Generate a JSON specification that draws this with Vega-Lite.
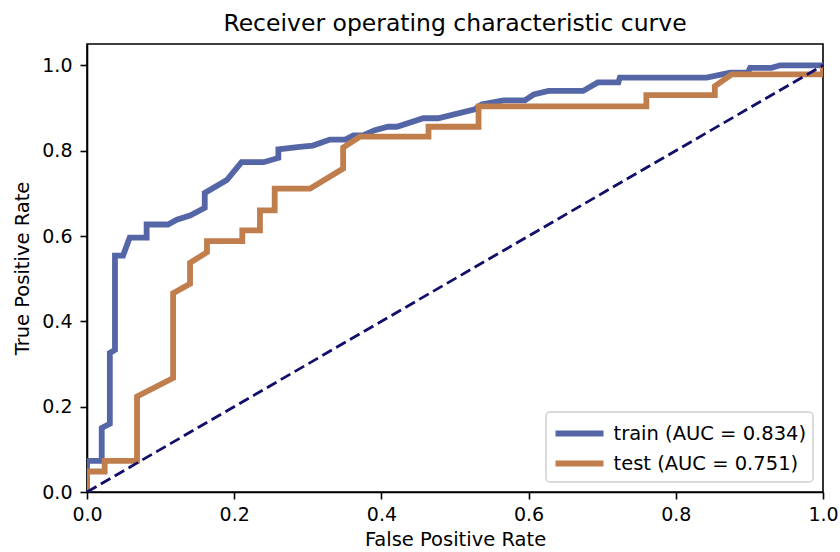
{
  "$schema": "https://vega.github.io/schema/vega-lite/v6.json",
  "autosize": {"type": "none"},
  "width": 736,
  "height": 448,
  "padding": {"left": 87, "top": 44, "right": 17, "bottom": 60},
  "background": "white",
  "config": {
    "font": "DejaVu Sans",
    "view": {"stroke": "black", "strokeWidth": 1.6},
    "legend": {"strokeWidth": 1.5},
    "axis": {
      "grid": false,
      "domainColor": "black",
      "domainWidth": 1.6,
      "tickColor": "black",
      "tickWidth": 1.6,
      "tickSize": 7,
      "labelFont": "DejaVu Sans",
      "labelFontSize": 19,
      "labelColor": "black",
      "labelPadding": 6,
      "titleFont": "DejaVu Sans",
      "titleFontSize": 19.5,
      "titleFontWeight": "normal",
      "titleColor": "black"
    }
  },
  "title": {
    "text": "Receiver operating characteristic curve",
    "font": "DejaVu Sans",
    "fontSize": 23.5,
    "fontWeight": "normal",
    "color": "black",
    "offset": 9
  },
  "datasets": {
    "roc": [
      {"set": "train (AUC = 0.834)", "i": 0, "fpr": 0, "tpr": 0},
      {"set": "train (AUC = 0.834)", "i": 1, "fpr": 0, "tpr": 0.073},
      {"set": "train (AUC = 0.834)", "i": 2, "fpr": 0.020, "tpr": 0.073},
      {"set": "train (AUC = 0.834)", "i": 3, "fpr": 0.020, "tpr": 0.150},
      {"set": "train (AUC = 0.834)", "i": 4, "fpr": 0.031, "tpr": 0.160},
      {"set": "train (AUC = 0.834)", "i": 5, "fpr": 0.031, "tpr": 0.326},
      {"set": "train (AUC = 0.834)", "i": 6, "fpr": 0.038, "tpr": 0.333},
      {"set": "train (AUC = 0.834)", "i": 7, "fpr": 0.038, "tpr": 0.554},
      {"set": "train (AUC = 0.834)", "i": 8, "fpr": 0.049, "tpr": 0.554},
      {"set": "train (AUC = 0.834)", "i": 9, "fpr": 0.058, "tpr": 0.596},
      {"set": "train (AUC = 0.834)", "i": 10, "fpr": 0.081, "tpr": 0.596},
      {"set": "train (AUC = 0.834)", "i": 11, "fpr": 0.081, "tpr": 0.627},
      {"set": "train (AUC = 0.834)", "i": 12, "fpr": 0.110, "tpr": 0.627},
      {"set": "train (AUC = 0.834)", "i": 13, "fpr": 0.122, "tpr": 0.638},
      {"set": "train (AUC = 0.834)", "i": 14, "fpr": 0.140, "tpr": 0.648},
      {"set": "train (AUC = 0.834)", "i": 15, "fpr": 0.160, "tpr": 0.666},
      {"set": "train (AUC = 0.834)", "i": 16, "fpr": 0.160, "tpr": 0.701},
      {"set": "train (AUC = 0.834)", "i": 17, "fpr": 0.190, "tpr": 0.731},
      {"set": "train (AUC = 0.834)", "i": 18, "fpr": 0.210, "tpr": 0.773},
      {"set": "train (AUC = 0.834)", "i": 19, "fpr": 0.240, "tpr": 0.773},
      {"set": "train (AUC = 0.834)", "i": 20, "fpr": 0.260, "tpr": 0.783},
      {"set": "train (AUC = 0.834)", "i": 21, "fpr": 0.260, "tpr": 0.803},
      {"set": "train (AUC = 0.834)", "i": 22, "fpr": 0.289, "tpr": 0.809},
      {"set": "train (AUC = 0.834)", "i": 23, "fpr": 0.307, "tpr": 0.812},
      {"set": "train (AUC = 0.834)", "i": 24, "fpr": 0.330, "tpr": 0.826},
      {"set": "train (AUC = 0.834)", "i": 25, "fpr": 0.351, "tpr": 0.826},
      {"set": "train (AUC = 0.834)", "i": 26, "fpr": 0.362, "tpr": 0.836},
      {"set": "train (AUC = 0.834)", "i": 27, "fpr": 0.375, "tpr": 0.836},
      {"set": "train (AUC = 0.834)", "i": 28, "fpr": 0.391, "tpr": 0.848},
      {"set": "train (AUC = 0.834)", "i": 29, "fpr": 0.409, "tpr": 0.856},
      {"set": "train (AUC = 0.834)", "i": 30, "fpr": 0.421, "tpr": 0.856},
      {"set": "train (AUC = 0.834)", "i": 31, "fpr": 0.457, "tpr": 0.876},
      {"set": "train (AUC = 0.834)", "i": 32, "fpr": 0.477, "tpr": 0.876},
      {"set": "train (AUC = 0.834)", "i": 33, "fpr": 0.527, "tpr": 0.897},
      {"set": "train (AUC = 0.834)", "i": 34, "fpr": 0.536, "tpr": 0.908},
      {"set": "train (AUC = 0.834)", "i": 35, "fpr": 0.566, "tpr": 0.918},
      {"set": "train (AUC = 0.834)", "i": 36, "fpr": 0.595, "tpr": 0.918},
      {"set": "train (AUC = 0.834)", "i": 37, "fpr": 0.607, "tpr": 0.932},
      {"set": "train (AUC = 0.834)", "i": 38, "fpr": 0.627, "tpr": 0.940},
      {"set": "train (AUC = 0.834)", "i": 39, "fpr": 0.674, "tpr": 0.940},
      {"set": "train (AUC = 0.834)", "i": 40, "fpr": 0.694, "tpr": 0.960},
      {"set": "train (AUC = 0.834)", "i": 41, "fpr": 0.722, "tpr": 0.960},
      {"set": "train (AUC = 0.834)", "i": 42, "fpr": 0.724, "tpr": 0.971},
      {"set": "train (AUC = 0.834)", "i": 43, "fpr": 0.842, "tpr": 0.971},
      {"set": "train (AUC = 0.834)", "i": 44, "fpr": 0.874, "tpr": 0.983},
      {"set": "train (AUC = 0.834)", "i": 45, "fpr": 0.898, "tpr": 0.983},
      {"set": "train (AUC = 0.834)", "i": 46, "fpr": 0.901, "tpr": 0.994},
      {"set": "train (AUC = 0.834)", "i": 47, "fpr": 0.930, "tpr": 0.994},
      {"set": "train (AUC = 0.834)", "i": 48, "fpr": 0.942, "tpr": 1.0},
      {"set": "train (AUC = 0.834)", "i": 49, "fpr": 1.0, "tpr": 1.0},
      {"set": "test (AUC = 0.751)", "i": 0, "fpr": 0, "tpr": 0},
      {"set": "test (AUC = 0.751)", "i": 1, "fpr": 0, "tpr": 0.048},
      {"set": "test (AUC = 0.751)", "i": 2, "fpr": 0.024, "tpr": 0.048},
      {"set": "test (AUC = 0.751)", "i": 3, "fpr": 0.024, "tpr": 0.073},
      {"set": "test (AUC = 0.751)", "i": 4, "fpr": 0.068, "tpr": 0.073},
      {"set": "test (AUC = 0.751)", "i": 5, "fpr": 0.068, "tpr": 0.224},
      {"set": "test (AUC = 0.751)", "i": 6, "fpr": 0.117, "tpr": 0.267},
      {"set": "test (AUC = 0.751)", "i": 7, "fpr": 0.117, "tpr": 0.466},
      {"set": "test (AUC = 0.751)", "i": 8, "fpr": 0.140, "tpr": 0.488},
      {"set": "test (AUC = 0.751)", "i": 9, "fpr": 0.140, "tpr": 0.537},
      {"set": "test (AUC = 0.751)", "i": 10, "fpr": 0.163, "tpr": 0.562},
      {"set": "test (AUC = 0.751)", "i": 11, "fpr": 0.163, "tpr": 0.588},
      {"set": "test (AUC = 0.751)", "i": 12, "fpr": 0.211, "tpr": 0.588},
      {"set": "test (AUC = 0.751)", "i": 13, "fpr": 0.211, "tpr": 0.613},
      {"set": "test (AUC = 0.751)", "i": 14, "fpr": 0.235, "tpr": 0.613},
      {"set": "test (AUC = 0.751)", "i": 15, "fpr": 0.235, "tpr": 0.660},
      {"set": "test (AUC = 0.751)", "i": 16, "fpr": 0.255, "tpr": 0.660},
      {"set": "test (AUC = 0.751)", "i": 17, "fpr": 0.255, "tpr": 0.711},
      {"set": "test (AUC = 0.751)", "i": 18, "fpr": 0.303, "tpr": 0.711},
      {"set": "test (AUC = 0.751)", "i": 19, "fpr": 0.348, "tpr": 0.758},
      {"set": "test (AUC = 0.751)", "i": 20, "fpr": 0.348, "tpr": 0.807},
      {"set": "test (AUC = 0.751)", "i": 21, "fpr": 0.371, "tpr": 0.833},
      {"set": "test (AUC = 0.751)", "i": 22, "fpr": 0.464, "tpr": 0.833},
      {"set": "test (AUC = 0.751)", "i": 23, "fpr": 0.464, "tpr": 0.856},
      {"set": "test (AUC = 0.751)", "i": 24, "fpr": 0.532, "tpr": 0.856},
      {"set": "test (AUC = 0.751)", "i": 25, "fpr": 0.532, "tpr": 0.904},
      {"set": "test (AUC = 0.751)", "i": 26, "fpr": 0.760, "tpr": 0.904},
      {"set": "test (AUC = 0.751)", "i": 27, "fpr": 0.760, "tpr": 0.930},
      {"set": "test (AUC = 0.751)", "i": 28, "fpr": 0.853, "tpr": 0.930},
      {"set": "test (AUC = 0.751)", "i": 29, "fpr": 0.853, "tpr": 0.951},
      {"set": "test (AUC = 0.751)", "i": 30, "fpr": 0.876, "tpr": 0.979},
      {"set": "test (AUC = 0.751)", "i": 31, "fpr": 1.0, "tpr": 0.979},
      {"set": "test (AUC = 0.751)", "i": 32, "fpr": 1.0, "tpr": 1.0}
    ],
    "diag": [
      {"fpr": 0, "tpr": 0},
      {"fpr": 1, "tpr": 1}
    ]
  },
  "layer": [
    {
      "data": {"name": "roc"},
      "mark": {"type": "line", "strokeWidth": 5.8, "clip": true, "strokeJoin": "miter"},
      "encoding": {
        "x": {
          "field": "fpr", "type": "quantitative",
          "scale": {"domain": [0, 1], "nice": false, "zero": false},
          "axis": {"title": "False Positive Rate", "values": [0, 0.2, 0.4, 0.6, 0.8, 1.0], "format": ".1f", "labelFlush": false, "titlePadding": 6}
        },
        "y": {
          "field": "tpr", "type": "quantitative",
          "scale": {"domain": [0, 1.05], "nice": false, "zero": false},
          "axis": {"title": "True Positive Rate", "values": [0, 0.2, 0.4, 0.6, 0.8, 1.0], "format": ".1f", "labelFlush": false, "labelPadding": 8, "titlePadding": 9}
        },
        "order": {"field": "i", "type": "quantitative"},
        "color": {
          "field": "set", "type": "nominal",
          "scale": {
            "domain": ["train (AUC = 0.834)", "test (AUC = 0.751)"],
            "range": ["#5466a6", "#c07e4c"]
          },
          "legend": {
            "title": null,
            "orient": "bottom-right",
            "offset": 10,
            "symbolType": "M-1,0H3",
            "symbolStrokeWidth": 5.8,
            "symbolSize": 576,
            "labelFont": "DejaVu Sans",
            "labelFontSize": 19.5,
            "labelLimit": 400,
            "labelColor": "black",
            "labelOffset": 31,
            "rowPadding": 3,
            "fillColor": "white",
            "strokeColor": "#d0d0d0",
            "cornerRadius": 4,
            "padding": 6.5
          }
        }
      }
    },
    {
      "data": {"name": "diag"},
      "mark": {"type": "line", "color": "#120f6b", "strokeWidth": 2.8, "strokeDash": [11, 5]},
      "encoding": {
        "x": {"field": "fpr", "type": "quantitative"},
        "y": {"field": "tpr", "type": "quantitative"}
      }
    }
  ]
}
